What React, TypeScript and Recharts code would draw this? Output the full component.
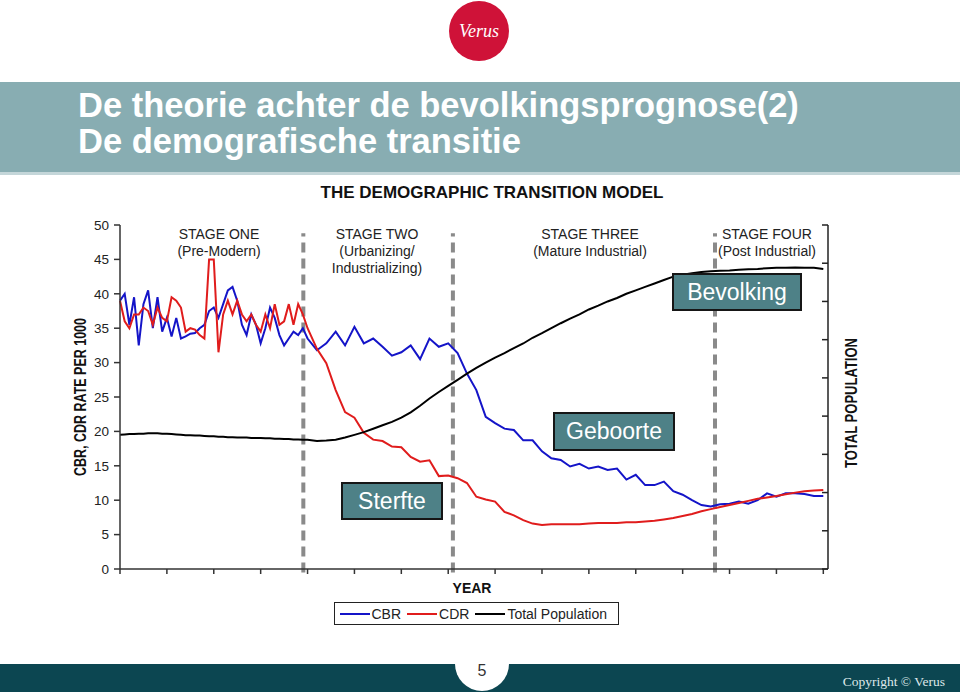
import { LineChart, Line, XAxis, YAxis, ReferenceLine, Legend } from "recharts";

// x positions along the (unlabelled) year axis
const years = [
  0, 1, 2, 3, 4, 5, 6, 7, 8, 9, 10, 11, 12, 13, 14, 15, 16, 17, 18, 19, 20,
  21, 22, 23, 24, 25, 26, 27, 28, 29, 30, 31, 32, 33, 34, 35, 36, 37, 38, 39, 40,
  42, 44, 46, 48, 50, 52, 54, 56, 58, 60, 62, 64, 66, 68, 70, 72, 74, 76, 78, 80,
  82, 84, 86, 88, 90, 92, 94, 96, 98, 100, 102, 104, 106, 108, 110, 112, 114, 116,
  118, 120, 122, 124, 126, 128, 130, 132, 134, 136, 138, 140, 142, 144, 146, 148, 150,
];

const cbr = [
  39, 40, 35.5, 39.5, 32.5, 38.5, 40.5, 35, 39.5, 34.5, 36.5, 33.8, 36.5, 33.5, 33.8,
  34.2, 34.3, 35, 35.5, 37.5, 38, 36.5, 38.5, 40.5, 41, 39, 35.5, 34, 37, 35.5, 32.8,
  35, 38, 36.5, 34, 32.5, 33.5, 34.5, 34, 35, 33.5,
  31.8, 32.8, 34.5, 32.5, 35.2, 32.8, 33.5, 32.3, 31, 31.5, 32.5, 30.5, 33.5, 32.3, 32.8,
  31.4, 28.4, 26, 22.1, 21.2, 20.4, 20.2, 18.7, 18.7, 17.1, 16.1, 15.85, 14.9, 15.3, 14.6,
  14.9, 14.4, 14.6, 13, 13.7, 12.2, 12.2, 12.7, 11.3, 10.8, 10, 9.3, 9.1, 9.4, 9.5,
  9.8, 9.5, 10, 11, 10.5, 11, 11, 10.9, 10.6, 10.6,
];

const cdr = [
  39, 36, 35, 37, 37, 38, 37.5, 35.5, 38, 36.5, 36, 39.5, 39, 38, 34.5, 35, 34.8, 34,
  33.5, 45, 45, 31.5, 37, 39, 37, 39, 37, 36, 37, 35.5, 34.5, 37, 35, 38.5, 35.5, 36,
  38.5, 35.5, 38.5, 37, 35,
  32, 29.9, 26, 22.8, 22, 19.8, 18.8, 18.6, 17.8, 17.7, 16.3, 15.6, 15.8, 13.5, 13.6,
  13.2, 12.5, 10.5, 10.1, 9.8, 8.3, 7.8, 7.1, 6.6, 6.4, 6.5, 6.5, 6.5, 6.5, 6.6,
  6.7, 6.7, 6.7, 6.8, 6.8, 6.9, 7, 7.2, 7.4, 7.7, 8, 8.4, 8.7, 9, 9.3,
  9.6, 9.9, 10.2, 10.4, 10.6, 10.85, 11.1, 11.3, 11.4, 11.5,
];

// read against the right-hand axis ticks (0..9)
const population = [
  3.51, 3.52, 3.53, 3.53, 3.54, 3.54, 3.55, 3.55, 3.55, 3.54, 3.54, 3.53, 3.52, 3.51,
  3.5, 3.5, 3.49, 3.49, 3.48, 3.47, 3.47, 3.46, 3.46, 3.45, 3.45, 3.44, 3.44, 3.44,
  3.43, 3.43, 3.43, 3.42, 3.42, 3.41, 3.41, 3.4, 3.4, 3.39, 3.39, 3.38, 3.38,
  3.35, 3.36, 3.38, 3.44, 3.51, 3.58, 3.67, 3.76, 3.85, 3.96, 4.1, 4.27, 4.46, 4.63, 4.79,
  4.95, 5.11, 5.26, 5.4, 5.53, 5.65, 5.78, 5.9, 6.05, 6.17, 6.3, 6.43, 6.55, 6.66, 6.79,
  6.89, 7, 7.09, 7.2, 7.29, 7.38, 7.47, 7.56, 7.65, 7.7, 7.74, 7.77, 7.79, 7.8, 7.81,
  7.83, 7.84, 7.85, 7.87, 7.88, 7.88, 7.89, 7.88, 7.88, 7.85,
];

const rateTicks = [0, 5, 10, 15, 20, 25, 30, 35, 40, 45, 50];
const popTicks = [0, 1, 2, 3, 4, 5, 6, 7, 8, 9];
const yearTicks = [0, 10, 20, 30, 40, 50, 60, 70, 80, 90, 100, 110, 120, 130, 140, 150];
const stageBreaks = [39.1, 71, 126.9];

const stageTitles = ["STAGE ONE", "STAGE TWO", "STAGE THREE", "STAGE FOUR"];
const stageSubs = [["(Pre-Modern)"], ["(Urbanizing/", "Industrializing)"], ["(Mature Industrial)"], ["(Post Industrial)"]];
const stageCenters = [219, 377, 590, 767];

const SANS = '"Liberation Sans", Arial, sans-serif';
const BOX_FILL = "#4e8187";

// tick marks only, no labels
const blankTick = () => <g />;

function LegendBox(props: any) {
  const items = props.payload || [];
  return (
    <div
      style={{
        boxSizing: "border-box",
        width: 285,
        height: 23,
        border: "1.5px solid #222",
        background: "#fff",
        display: "flex",
        alignItems: "center",
        paddingLeft: 4.5,
        fontFamily: SANS,
        fontSize: 14,
        color: "#222",
      }}
    >
      {items.map((it: any) => (
        <span key={it.value} style={{ display: "inline-flex", alignItems: "center", marginRight: 6 }}>
          <span style={{ display: "inline-block", width: 30, borderTop: `2px solid ${it.color}`, marginRight: 2 }} />
          {it.value}
        </span>
      ))}
    </div>
  );
}

function NoteBox({ text, left, top, width, height }: any) {
  return (
    <div
      style={{
        position: "absolute",
        left,
        top,
        width,
        height,
        boxSizing: "border-box",
        border: "2.5px solid #161616",
        background: BOX_FILL,
        color: "#fff",
        fontFamily: SANS,
        fontSize: 23,
        display: "flex",
        alignItems: "center",
        justifyContent: "center",
      }}
    >
      {text}
    </div>
  );
}

export default function App() {
  const data = years.map((year, i) => ({
    year,
    cbr: cbr[i],
    cdr: cdr[i],
    population: population[i],
  }));

  return (
    <div
      style={{
        position: "absolute",
        left: 0,
        top: 0,
        width: 960,
        height: 692,
        background: "#fff",
        overflow: "hidden",
        fontFamily: SANS,
      }}
    >
      {/* logo */}
      <div
        style={{
          position: "absolute",
          left: 449,
          top: 1,
          width: 60,
          height: 60,
          borderRadius: "50%",
          background: "#cf1238",
          color: "#fff",
          display: "flex",
          alignItems: "center",
          justifyContent: "center",
          fontFamily: '"Liberation Serif", serif',
          fontStyle: "italic",
          fontSize: 18,
        }}
      >
        Verus
      </div>

      {/* title band */}
      <div style={{ position: "absolute", left: 0, top: 82, width: 960, height: 90, background: "#88adb2" }} />
      <div style={{ position: "absolute", left: 0, top: 172, width: 960, height: 3, background: "#c4d6d9" }} />
      <div
        style={{
          position: "absolute",
          left: 78,
          top: 87,
          color: "#fff",
          fontWeight: "bold",
          fontSize: 34.5,
          lineHeight: "36px",
          whiteSpace: "nowrap",
        }}
      >
        De theorie achter de bevolkingsprognose(2)
        <br />
        De demografische transitie
      </div>

      {/* chart heading */}
      <div
        style={{
          position: "absolute",
          left: 292,
          width: 400,
          top: 183,
          textAlign: "center",
          fontWeight: "bold",
          fontSize: 17,
          lineHeight: "20px",
          color: "#111",
        }}
      >
        THE DEMOGRAPHIC TRANSITION MODEL
      </div>

      <div style={{ position: "absolute", left: 0, top: 0 }}>
        <LineChart width={960} height={692} data={data} margin={{ top: 225, right: 132, bottom: 93, left: 60 }}>
          <XAxis
            dataKey="year"
            type="number"
            domain={[0, 151]}
            ticks={yearTicks}
            tick={blankTick}
            tickSize={5}
            height={30}
            stroke="#333"
            strokeWidth={1.5}
          />
          <YAxis
            yAxisId="rate"
            domain={[0, 50]}
            ticks={rateTicks}
            width={60}
            tickSize={6}
            tickMargin={5}
            stroke="#333"
            strokeWidth={1.5}
            tick={{ fill: "#222", fontSize: 13.5, fontFamily: SANS }}
          />
          <YAxis
            yAxisId="pop"
            orientation="right"
            domain={[0, 9]}
            ticks={popTicks}
            width={30}
            mirror
            tick={blankTick}
            tickSize={6}
            stroke="#222"
            strokeWidth={1.5}
          />
          {stageBreaks.map((b) => (
            <ReferenceLine
              key={b}
              yAxisId="rate"
              segment={[
                { x: b, y: -0.5 },
                { x: b, y: 48.8 },
              ]}
              stroke="#8a8a8a"
              strokeWidth={4}
              strokeDasharray="10 6"
              ifOverflow="visible"
            />
          ))}
          <Line
            yAxisId="rate"
            dataKey="cbr"
            name="CBR"
            type="linear"
            stroke="#1414c8"
            strokeWidth={2}
            dot={false}
            isAnimationActive={false}
          />
          <Line
            yAxisId="rate"
            dataKey="cdr"
            name="CDR"
            type="linear"
            stroke="#e01c1c"
            strokeWidth={2}
            dot={false}
            isAnimationActive={false}
          />
          <Line
            yAxisId="pop"
            dataKey="population"
            name="Total Population"
            type="linear"
            stroke="#000"
            strokeWidth={2}
            dot={false}
            isAnimationActive={false}
          />
          <Legend
            layout="horizontal"
            verticalAlign="middle"
            align="center"
            content={LegendBox}
            wrapperStyle={{ position: "absolute", left: 334, top: 602, width: 285, height: 23 }}
          />
        </LineChart>
      </div>

      {/* stage labels */}
      {stageTitles.map((t, i) => (
        <div
          key={t}
          style={{
            position: "absolute",
            left: stageCenters[i] - 100,
            width: 200,
            top: 225.6,
            textAlign: "center",
            fontSize: 14,
            lineHeight: "17px",
            color: "#222",
          }}
        >
          {t}
          {stageSubs[i].map((s) => (
            <div key={s}>{s}</div>
          ))}
        </div>
      ))}

      {/* rotated axis titles */}
      <svg width={960} height={692} style={{ position: "absolute", left: 0, top: 0, pointerEvents: "none" }}>
        <text
          transform="translate(86,397) rotate(-90)"
          textAnchor="middle"
          fontFamily={SANS}
          fontWeight="bold"
          fontSize={16}
          textLength={158}
          lengthAdjust="spacingAndGlyphs"
          fill="#111"
        >
          CBR, CDR RATE PER 1000
        </text>
        <text
          transform="translate(857,403) rotate(-90)"
          textAnchor="middle"
          fontFamily={SANS}
          fontWeight="bold"
          fontSize={16}
          textLength={130}
          lengthAdjust="spacingAndGlyphs"
          fill="#111"
        >
          TOTAL POPULATION
        </text>
      </svg>

      <div
        style={{
          position: "absolute",
          left: 422,
          width: 100,
          top: 580,
          textAlign: "center",
          fontWeight: "bold",
          fontSize: 14,
          lineHeight: "16px",
          color: "#111",
        }}
      >
        YEAR
      </div>

      <NoteBox text="Bevolking" left={672} top={273} width={130} height={38} />
      <NoteBox text="Geboorte" left={553} top={412} width={122} height={39} />
      <NoteBox text="Sterfte" left={341} top={482} width={102} height={38} />

      {/* footer */}
      <div style={{ position: "absolute", left: 0, top: 664, width: 960, height: 28, background: "#0c4651" }} />
      <div
        style={{
          position: "absolute",
          left: 455,
          top: 637,
          width: 54,
          height: 54,
          borderRadius: "50%",
          background: "#fff",
        }}
      />
      <div
        style={{
          position: "absolute",
          left: 462,
          width: 40,
          top: 662,
          textAlign: "center",
          fontSize: 16,
          lineHeight: "18px",
          color: "#333",
        }}
      >
        5
      </div>
      <div
        style={{
          position: "absolute",
          right: 15,
          top: 674,
          fontFamily: '"Liberation Serif", serif',
          fontSize: 13.5,
          lineHeight: "15px",
          color: "#dfe8ea",
          whiteSpace: "nowrap",
        }}
      >
        Copyright © Verus
      </div>
    </div>
  );
}
